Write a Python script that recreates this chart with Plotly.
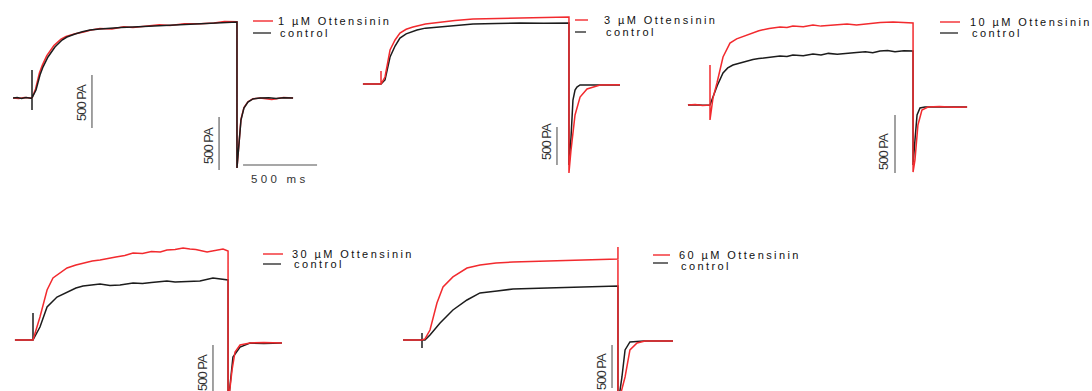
import plotly.graph_objects as go

W, H = 1092, 391
RED = "#f22a2e"
BLACK = "#1c1c1c"
BAR = "#8a8a8a"

SCALE_PA = 500   # vertical scale bar, pA
SCALE_MS = 500   # horizontal scale bar, ms

drug_labels = ["1 µM Ottensinin", "3 µM Ottensinin", "10 µM Ottensinin",
               "30 µM Ottensinin", "60 µM Ottensinin"]
control_label = "control"

# ---------------- Panel 1 : 1 µM ----------------
p1_ctrl_t = [-128, -100, -70, -40, -10, 0, 0, 0, 0, 27, 54, 74, 108, 155, 203, 236, 260, 291, 340, 392,
             459, 520, 600, 682, 760, 850, 932, 1000, 1070, 1135, 1200, 1260, 1320, 1385, 1385, 1399,
             1412, 1432, 1459, 1493, 1541, 1600, 1650, 1700, 1764]
p1_ctrl_i = [0, 5, -5, 4, -3, 0, 264, -113, 0, 75, 217, 292, 387, 481, 547, 575, 590, 604, 625, 642,
             651, 660, 665, 670, 675, 685, 689, 690, 700, 698, 705, 710, 712, 717, -660, -396,
             -208, -94, -38, -9, 0, 3, -4, 2, 0]
p1_drug_t = [-128, -90, -50, -20, 0, 24, 50, 70, 100, 148, 196, 230, 291, 350, 392, 459, 540, 620, 682,
             780, 860, 932, 1030, 1135, 1230, 1300, 1385, 1385, 1399, 1412, 1432, 1459, 1493, 1541,
             1620, 1700, 1764]
p1_drug_i = [0, -4, 4, -2, 0, 85, 235, 310, 400, 495, 555, 580, 606, 622, 640, 655, 650, 672, 665,
             680, 690, 685, 700, 700, 708, 722, 720, -660, -390, -200, -90, -35, -8, 0,
             -15, 4, 0]

# ---------------- Panel 2 : 3 µM ----------------
p2_ctrl_t = [-122, -60, 0, 27, 61, 95, 128, 170, 243, 300, 399, 500, 622, 780, 939, 1100, 1270, 1270,
             1284, 1297, 1311, 1324, 1345, 1615]
p2_ctrl_i = [0, 0, 0, 53, 355, 500, 605, 660, 711, 735, 750, 770, 790, 795, 803, 800, 803, -1066,
             -697, -211, -79, -40, -13, -13]
p2_drug_t = [-122, -60, 0, 0, 0, 27, 61, 95, 128, 170, 216, 300, 399, 500, 622, 780, 939, 1100, 1270,
             1270, 1284, 1311, 1345, 1392, 1480, 1615]
p2_drug_i = [0, 0, 0, 171, 0, 92, 447, 579, 671, 720, 750, 790, 816, 835, 855, 862, 868, 875, 882,
             -1171, -869, -408, -171, -66, -13, -10]

# ---------------- Panel 3 : 10 µM ----------------
p3_ctrl_t = [-149, -100, -50, 0, 20, 50, 88, 120, 155, 200, 250, 290, 330, 400, 473, 520, 560, 630, 696,
             750, 800, 860, 926, 990, 1050, 1100, 1149, 1200, 1250, 1310, 1372, 1372, 1385, 1399,
             1419, 1453, 1737]
p3_ctrl_i = [0, 3, -3, 0, 69, 170, 276, 320, 345, 362, 379, 392, 400, 410, 422, 418, 430, 425, 440,
             432, 445, 438, 448, 452, 458, 450, 466, 470, 460, 468, 466, -517, -302, -86,
             -26, -17, -17]
p3_drug_t = [-149, -100, -50, 0, 0, 0, 20, 47, 88, 135, 180, 250, 330, 400, 473, 520, 560, 630, 696,
             750, 800, 860, 926, 990, 1050, 1150, 1237, 1300, 1372, 1372, 1385, 1405, 1432, 1473,
             1550, 1650, 1737]
p3_drug_i = [0, 4, -4, 0, 345, -129, 60, 190, 414, 534, 570, 603, 640, 660, 672, 668, 680, 675, 690,
             680, 685, 692, 698, 690, 700, 712, 716, 712, 707, -578, -474, -172, -43, -17,
             -12, -20, -17]

# ---------------- Panel 4 : 30 µM ----------------
p4_ctrl_t = [-122, -60, 0, 0, 0, 47, 95, 162, 230, 290, 338, 400, 453, 520, 588, 676, 740, 800, 905,
             960, 1020, 1080, 1128, 1216, 1280, 1318, 1318, 1331, 1351, 1399, 1466, 1560, 1682]
p4_ctrl_i = [0, -3, 0, 270, 0, 130, 330, 430, 480, 520, 540, 552, 560, 545, 550, 570, 565, 575, 590,
             580, 585, 592, 590, 620, 610, 600, -650, -430, -170, -70, -30, -35, -30]
p4_drug_t = [-122, -60, 0, 47, 95, 135, 230, 290, 338, 400, 453, 520, 560, 620, 676, 740, 800, 860,
             905, 960, 1014, 1060, 1100, 1176, 1230, 1284, 1318, 1318, 1345, 1365, 1399, 1466,
             1560, 1682]
p4_drug_i = [0, 0, 0, 230, 500, 620, 720, 750, 770, 790, 800, 815, 830, 845, 870, 865, 885, 880,
             900, 905, 920, 910, 905, 880, 895, 910, 890, -650, -300, -120, -50, -30,
             -25, -30]

# ---------------- Panel 5 : 60 µM ----------------
p5_ctrl_t = [-128, -30, 0, 0, 0, 0, 20, 54, 122, 209, 304, 392, 507, 615, 845, 1068, 1324, 1324,
             1351, 1372, 1405, 1500, 1696]
p5_ctrl_i = [0, 0, 0, 81, -93, 0, 0, 58, 198, 349, 465, 547, 570, 593, 605, 616, 628, -750,
             -430, -116, -23, -12, -12]
p5_drug_t = [-128, 0, 20, 54, 101, 142, 209, 304, 392, 500, 615, 845, 1068, 1324, 1324, 1324,
             1372, 1405, 1453, 1507, 1696]
p5_drug_i = [0, 0, 12, 116, 430, 616, 733, 837, 872, 895, 907, 919, 930, 942, 1081, -750,
             -430, -116, -35, -12, -12]

ctrl_t = [p1_ctrl_t, p2_ctrl_t, p3_ctrl_t, p4_ctrl_t, p5_ctrl_t]
ctrl_i = [p1_ctrl_i, p2_ctrl_i, p3_ctrl_i, p4_ctrl_i, p5_ctrl_i]
drug_t = [p1_drug_t, p2_drug_t, p3_drug_t, p4_drug_t, p5_drug_t]
drug_i = [p1_drug_i, p2_drug_i, p3_drug_i, p4_drug_i, p5_drug_i]

# ---------------- layout geometry (pixels) ----------------
PX_PER_MS = 74 / 500
# pulse onset pixel x, baseline pixel y, pixels per pA
panel_geom = [
    dict(x0=32, y0=98, sy=53 / 500),
    dict(x0=381, y0=84, sy=38 / 500),
    dict(x0=710, y0=105, sy=58 / 500),
    dict(x0=33, y0=340, sy=50 / 500),
    dict(x0=422, y0=340, sy=43 / 500),
]
# scale-bar anchors (ms, pA top of bar)
vbars = [[(405, 217), (1264, -179)], [(1189, -566)], [(1250, -86)], [(1216, -50)], [(1284, -58)]]
hbar = (0, 1426, -632)
vbar_labels = [[(82, 103), (208, 146)], [(546, 142)], [(883, 152)], [(202, 373)], [(601, 372)]]
# line x0, line x1, red line y, black line y, text x, drug text y, control text y
legend_pos = [
    (253, 273, 21, 33, 276, 21, 33), (575, 588, 20, 32, 602, 20, 32), (940, 960, 22, 33, 968, 22, 33),
    (263, 283, 254, 264, 290, 254, 264), (653, 670, 255, 263, 677, 255, 266),
]

SANS = "Liberation Sans, Arial, sans-serif"


def px(x):
    return x / W


def py(y):
    return 1 - y / H


def spaced(txt, s):
    return f'<span style="letter-spacing:{s}px">{txt}</span>'


fig = go.Figure()
layout = dict(width=W, height=H, margin=dict(l=0, r=0, t=0, b=0, pad=0),
              paper_bgcolor="white", plot_bgcolor="rgba(0,0,0,0)", showlegend=False)
shapes, annotations = [], []

for k in range(5):
    n = "" if k == 0 else str(k + 1)
    g = panel_geom[k]
    xa, ya = "x" + n, "y" + n
    layout["xaxis" + n] = dict(domain=[0, 1], anchor=ya, visible=False, fixedrange=True,
                               range=[-g["x0"] / PX_PER_MS, (W - g["x0"]) / PX_PER_MS])
    layout["yaxis" + n] = dict(domain=[0, 1], anchor=xa, visible=False, fixedrange=True,
                               range=[(g["y0"] - H) / g["sy"], g["y0"] / g["sy"]])
    red = go.Scatter(x=drug_t[k], y=drug_i[k], mode="lines", name=drug_labels[k],
                     line=dict(color=RED, width=1.5), xaxis=xa, yaxis=ya)
    blk = go.Scatter(x=ctrl_t[k], y=ctrl_i[k], mode="lines", name=control_label,
                     line=dict(color=BLACK, width=1.5), xaxis=xa, yaxis=ya)
    if k == 0:
        fig.add_trace(red); fig.add_trace(blk)
    else:
        fig.add_trace(blk); fig.add_trace(red)

    for (bt, btop) in vbars[k]:
        shapes.append(dict(type="line", xref=xa, yref=ya, x0=bt, x1=bt, y0=btop, y1=btop - SCALE_PA,
                           line=dict(color=BAR, width=1.6)))
    for (lx, ly) in vbar_labels[k]:
        annotations.append(dict(text=spaced("500 PA", -1), xref="paper", yref="paper", x=px(lx), y=py(ly),
                                xanchor="center", yanchor="middle", showarrow=False, textangle=-90,
                                font=dict(family=SANS, size=13, color="#333333")))
    lx0, lx1, ry, by, tx, ty_d, ty_c = legend_pos[k]
    shapes.append(dict(type="line", xref="paper", yref="paper", x0=px(lx0), x1=px(lx1), y0=py(ry), y1=py(ry),
                       line=dict(color=RED, width=1.4)))
    shapes.append(dict(type="line", xref="paper", yref="paper", x0=px(lx0), x1=px(lx1 - 2), y0=py(by), y1=py(by),
                       line=dict(color="#333333", width=1.4)))
    for txt, yy, xx in [(drug_labels[k], ty_d, tx), (control_label, ty_c, tx + 2)]:
        annotations.append(dict(text=spaced(txt, 2.4), xref="paper", yref="paper", x=px(xx), y=py(yy),
                                xanchor="left", yanchor="middle", showarrow=False,
                                font=dict(family=SANS, size=11, color="#111111")))

# horizontal time scale bar (panel 1)
hk, ht, hi = hbar
shapes.append(dict(type="line", xref="x", yref="y", x0=ht, x1=ht + SCALE_MS, y0=hi, y1=hi,
                   line=dict(color=BAR, width=1.3)))
annotations.append(dict(text=spaced("500 ms", 3.3), xref="paper", yref="paper", x=px(280), y=py(179),
                        xanchor="center", yanchor="middle", showarrow=False,
                        font=dict(family=SANS, size=11.5, color="#333333")))

layout["shapes"] = shapes
layout["annotations"] = annotations
fig.update_layout(**layout)
fig.write_html("out.html", config={"displayModeBar": False, "staticPlot": True},
               post_script="document.body.style.margin='0';")
